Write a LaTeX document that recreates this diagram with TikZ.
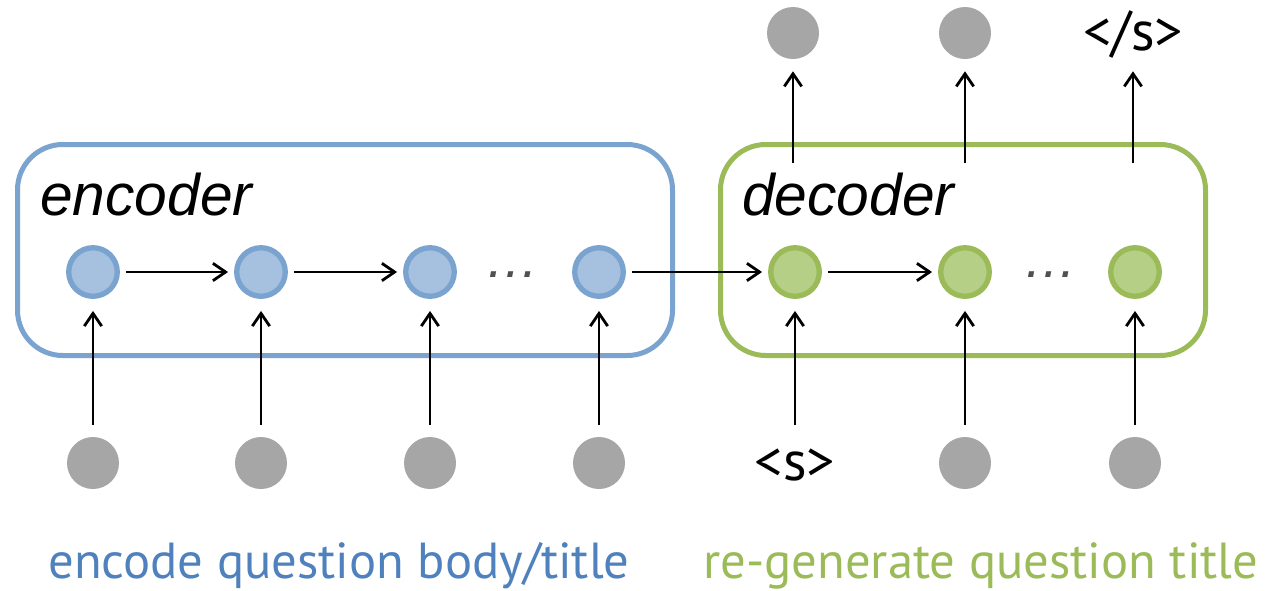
\documentclass[tikz,border=0pt]{standalone}
\usepackage{fontspec}
\setmainfont{PT Sans}
\newfontfamily\headfont{Liberation Sans}
\usetikzlibrary{arrows.meta,shapes.geometric}

\definecolor{encline}{RGB}{122,163,207}
\definecolor{encfill}{RGB}{166,192,223}
\definecolor{decline}{RGB}{155,187,89}
\definecolor{decfill}{RGB}{181,207,135}
\definecolor{tokgrey}{RGB}{166,166,166}
\definecolor{dotgrey}{RGB}{80,80,80}
\definecolor{enctext}{RGB}{79,129,189}
\definecolor{dectext}{RGB}{155,187,89}

\tikzset{
  block/.style={rounded corners=34pt, line width=3.75pt, inner sep=0pt},
  encblock/.style={block, draw=encline, minimum width=491.25pt, minimum height=158.25pt},
  decblock/.style={block, draw=decline, minimum width=363.75pt, minimum height=158.25pt},
  cell/.style={circle, line width=4pt, minimum size=36.4pt, inner sep=0pt},
  enccell/.style={cell, draw=encline, fill=encfill},
  deccell/.style={cell, draw=decline, fill=decfill},
  tok/.style={circle, fill=tokgrey, minimum size=39pt, inner sep=0pt},
  marker/.style={anchor=base, inner sep=0pt, font=\fontsize{42}{44}\selectfont},
  ellipsis/.style={anchor=base, inner sep=0pt, text=dotgrey, font=\headfont\itshape\fontsize{40.5}{42}\selectfont},
  blocktitle/.style={anchor=base west, inner sep=0pt, font=\headfont\itshape\fontsize{44}{48}\selectfont},
  caption/.style={anchor=base west, inner sep=0pt, font=\fontsize{38}{40}\selectfont},
  arr/.style={line width=2.1pt, -{Straight Barb[length=9.5pt, width=13pt, line width=2.1pt]}},
  flow/.style={arr, shorten <=4.5pt, shorten >=4.5pt},
  feed/.style={arr, shorten <=9pt, shorten >=9pt},
}

\begin{document}
\begin{tikzpicture}[x=0.75pt, y=-0.75pt]
\useasboundingbox (0,0) rectangle (1265,590);

% containers
\node[encblock] (enc) at (345,250) {};
\node[decblock] (dec) at (963,250) {};
\node[blocktitle] (enctitle) at (40,215) {encoder};
\node[blocktitle] (dectitle) at (742,215) {decoder};

% encoder states
\node[enccell] (e1) at (93,272) {};
\node[enccell] (e2) at (261,272) {};
\node[enccell] (e3) at (430,272) {};
\node[enccell] (e4) at (599,272) {};
\node[ellipsis] (edots) at (512,277) {…};

% decoder states
\node[deccell] (d1) at (795,272) {};
\node[deccell] (d2) at (965,272) {};
\node[deccell] (d3) at (1135,272) {};
\node[ellipsis] (ddots) at (1050,277) {…};

% input tokens (the start marker's box reaches up to the other tokens' tops)
\node[tok] (x1) at (93,463) {};
\node[tok] (x2) at (261,463) {};
\node[tok] (x3) at (430,463) {};
\node[tok] (x4) at (599,463) {};
\node[marker, text height=32.25pt, text depth=0pt] (y0) at (795,480) {<s>};
\node[tok] (y1) at (965,463) {};
\node[tok] (y2) at (1135,463) {};

% output tokens (the end marker's box reaches down to the other tokens' bottoms)
\node[tok] (o1) at (793,33) {};
\node[tok] (o2) at (965,33) {};
\node[marker, text height=20pt, text depth=6.75pt] (o3) at (1133,50) {</s>};

% recurrent connections
\draw[flow] (e1) -- (e2);
\draw[flow] (e2) -- (e3);
\draw[flow] (e4) -- (d1);
\draw[flow] (d1) -- (d2);

% inputs into the cells
\draw[feed] (x1) -- (e1);
\draw[feed] (x2) -- (e2);
\draw[feed] (x3) -- (e3);
\draw[feed] (x4) -- (e4);
\draw[feed] (y0) -- (d1);
\draw[feed] (y1) -- (d2);
\draw[feed] (y2) -- (d3);

% outputs leaving the decoder
\coordinate (s1) at (793,163);
\coordinate (s2) at (965,163);
\coordinate (s3) at (1133,163);
\draw[arr, shorten >=9pt] (s1) -- (o1);
\draw[arr, shorten >=9pt] (s2) -- (o2);
\draw[arr, shorten >=9pt] (s3) -- (o3);

% captions
\node[caption, text=enctext] (enccap) at (48,578) {encode question body/title};
\node[caption, text=dectext] (deccap) at (703,578) {re-generate question title};
\end{tikzpicture}
\end{document}
